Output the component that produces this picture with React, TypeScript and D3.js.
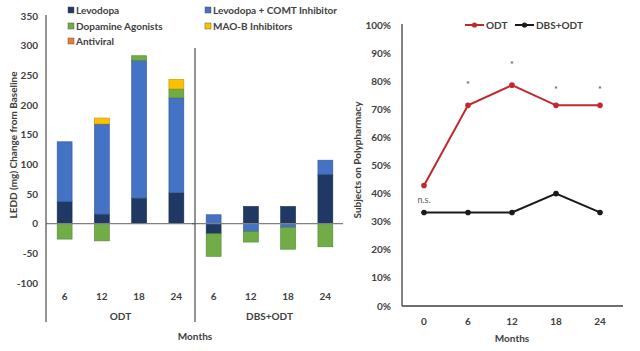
import React from "react";
import * as d3 from "d3";

// ---------- Left chart data ----------
const groups = ["ODT", "DBS+ODT"];
const months = ["6", "12", "18", "24"];
const seriesNames = ["Levodopa", "Levodopa + COMT Inhibitor", "Dopamine Agonists", "MAO-B Inhibitors", "Antiviral"];
const seriesColors = ["#203864", "#4472C4", "#70AD47", "#FFC000", "#ED7D31"];
// values per bar: ODT 6,12,18,24 then DBS+ODT 6,12,18,24
const levodopa = [37, 16, 43, 52, -17, 29, 29, 83];
const comt = [101, 152, 232, 160, 15, -13, -6, 24];
const dopamineAgonists = [-26, -29, 8, 15, -38, -18, -37, -39];
const maoB = [0, 10, 0, 16, 0, 0, 0, 0];
const antiviral = [0, 0, 0, 0, 0, 0, 0, 0];
const leftTicks = [-100, -50, 0, 50, 100, 150, 200, 250, 300, 350];

// ---------- Right chart data ----------
const lineMonths = ["0", "6", "12", "18", "24"];
const odtPct = [42.9, 71.4, 78.6, 71.4, 71.4];
const dbsPct = [33.3, 33.3, 33.3, 40.0, 33.3];
const sigMarks = ["n.s.", "*", "*", "*", "*"];
const sigLevels = [null, 80, 87, 78, 78];
const rightTicks = [0, 10, 20, 30, 40, 50, 60, 70, 80, 90, 100];

const FONT = "Lato, 'Open Sans', sans-serif";
const TXT = "#404040";
const FS = 10;

export default function App() {
  // ---- left chart ----
  const keys = groups.flatMap((g) => months.map((m) => g + "|" + m));
  const x = d3.scaleBand<string>().domain(keys).range([46, 344]).padding(0);
  const y = d3.scaleLinear().domain([-100, 350]).range([283, 16]);
  const barW = x.bandwidth() * 0.4;

  const rows = keys.map((k, i) => ({
    key: k,
    s0: levodopa[i],
    s1: comt[i],
    s2: dopamineAgonists[i],
    s3: maoB[i],
    s4: antiviral[i],
  }));
  const stack = d3
    .stack<any>()
    .keys(["s0", "s1", "s2", "s3", "s4"])
    .offset(d3.stackOffsetDiverging);
  const stacked = stack(rows);

  const groupX = (gi: number) => x(keys[gi * months.length])!;
  const groupEnd = x.range()[1];

  // ---- right chart ----
  const x2 = d3.scalePoint<string>().domain(lineMonths).range([424, 600]);
  const y2 = d3.scaleLinear().domain([0, 100]).range([306, 25]);
  const line = d3
    .line<number>()
    .x((_, i) => x2(lineMonths[i])!)
    .y((d) => y2(d));

  return (
    <svg width={640} height={351} style={{ display: "block", position: "absolute", left: 0, top: 0, background: "#fff" }} fontFamily={FONT}>
      {/* ===== LEFT CHART ===== */}
      {[
        { i: 0, lx: 68, ly: 10 },
        { i: 2, lx: 68, ly: 26 },
        { i: 4, lx: 68, ly: 41 },
        { i: 1, lx: 205, ly: 10 },
        { i: 3, lx: 205, ly: 26 },
      ].map(({ i, lx, ly }) => (
        <g key={"lg" + i}>
          <rect x={lx} y={ly - 3} width={6} height={6} fill={seriesColors[i]} stroke="#555" strokeWidth={0.5} />
          <text x={lx + 8} y={ly} dy="0.35em" fontSize={FS} fontWeight={700} fill={TXT}>
            {seriesNames[i]}
          </text>
        </g>
      ))}

      {leftTicks.map((t) => (
        <text key={"lt" + t} x={38} y={y(t)} dy="0.35em" textAnchor="end" fontSize={FS} fontWeight={700} fill={TXT}>
          {t}
        </text>
      ))}
      <text transform={`translate(13,145) rotate(-90)`} textAnchor="middle" dy="0.35em" fontSize={FS} fontWeight={700} fill={TXT}>
        LEDD (mg) Change from Baseline
      </text>

      {stacked.map((s, si) =>
        s.map((d, bi) => {
          const v = (d.data as any)["s" + si];
          if (!v) return null;
          const y0 = y(d[0]);
          const y1 = y(d[1]);
          return (
            <rect
              key={`b${si}-${bi}`}
              x={x(keys[bi])! + (x.bandwidth() - barW) / 2}
              y={Math.min(y0, y1)}
              width={barW}
              height={Math.abs(y1 - y0)}
              fill={seriesColors[si]}
              stroke={d3.color(seriesColors[si])!.darker(0.8).toString()}
              strokeWidth={0.6}
            />
          );
        })
      )}

      <line x1={46} x2={343} y1={y(0)} y2={y(0)} stroke="#808080" strokeWidth={1.2} />
      <line x1={46} x2={46} y1={15} y2={322} stroke="#595959" strokeWidth={1.3} />
      <line x1={groupX(1)} x2={groupX(1)} y1={48} y2={322} stroke="#595959" strokeWidth={1.3} />
      <line x1={groupX(1) - 3} x2={groupX(1)} y1={y(0)} y2={y(0)} stroke="#595959" strokeWidth={1.2} />

      {keys.map((k) => (
        <text key={"cl" + k} x={x(k)! + x.bandwidth() / 2} y={296} dy="0.35em" textAnchor="middle" fontSize={FS} fontWeight={700} fill={TXT}>
          {k.split("|")[1]}
        </text>
      ))}
      {groups.map((g, gi) => {
        const gx0 = groupX(gi);
        const gx1 = gi + 1 < groups.length ? groupX(gi + 1) : groupEnd;
        return (
          <text key={"gl" + g} x={(gx0 + gx1) / 2} y={316} dy="0.35em" textAnchor="middle" fontSize={FS} fontWeight={700} fill={TXT}>
            {g}
          </text>
        );
      })}
      <text x={195} y={336} dy="0.35em" textAnchor="middle" fontSize={FS} fontWeight={700} fill={TXT}>
        Months
      </text>

      {/* ===== RIGHT CHART ===== */}
      {rightTicks.map((t) => (
        <text key={"rt" + t} x={391} y={y2(t)} dy="0.35em" textAnchor="end" fontSize={FS} fontWeight={700} fill={TXT}>
          {t + "%"}
        </text>
      ))}
      <text transform={`translate(357,160) rotate(-90)`} textAnchor="middle" dy="0.35em" fontSize={FS} fontWeight={700} fill={TXT}>
        Subjects on Polypharmacy
      </text>
      <line x1={402} x2={402} y1={24} y2={306} stroke="#404040" strokeWidth={1.3} />
      <line x1={402} x2={623} y1={306} y2={306} stroke="#404040" strokeWidth={1.3} />
      {lineMonths.map((m) => (
        <text key={"xm" + m} x={x2(m)!} y={321} dy="0.35em" textAnchor="middle" fontSize={FS} fontWeight={700} fill={TXT}>
          {m}
        </text>
      ))}
      <text x={512} y={338} dy="0.35em" textAnchor="middle" fontSize={FS} fontWeight={700} fill={TXT}>
        Months
      </text>

      <path d={line(dbsPct)!} fill="none" stroke="#1a1a1a" strokeWidth={2} />
      {dbsPct.map((v, i) => (
        <circle key={"dd" + i} cx={x2(lineMonths[i])!} cy={y2(v)} r={2.8} fill="#1a1a1a" />
      ))}
      <path d={line(odtPct)!} fill="none" stroke="#C0292E" strokeWidth={2} />
      {odtPct.map((v, i) => (
        <circle key={"od" + i} cx={x2(lineMonths[i])!} cy={y2(v)} r={2.8} fill="#C0292E" />
      ))}

      {sigMarks.map((s, i) =>
        sigLevels[i] === null ? (
          <text key={"sg" + i} x={x2(lineMonths[i])!} y={200} dy="0.35em" textAnchor="middle" fontSize={9} fill="#595959">
            {s}
          </text>
        ) : (
          <text key={"sg" + i} x={x2(lineMonths[i])!} y={y2(sigLevels[i] as number)} dy="0.7em" textAnchor="middle" fontSize={9} fill="#404040">
            {s}
          </text>
        )
      )}

      <g>
        <line x1={465} x2={484} y1={25} y2={25} stroke="#C0292E" strokeWidth={2} />
        <circle cx={474.5} cy={25} r={2.6} fill="#C0292E" />
        <text x={486} y={25} dy="0.35em" fontSize={FS} fontWeight={700} fill={TXT}>ODT</text>
        <line x1={515} x2={534} y1={25} y2={25} stroke="#1a1a1a" strokeWidth={2} />
        <circle cx={524.5} cy={25} r={2.6} fill="#1a1a1a" />
        <text x={536} y={25} dy="0.35em" fontSize={FS} fontWeight={700} fill={TXT}>DBS+ODT</text>
      </g>
    </svg>
  );
}
